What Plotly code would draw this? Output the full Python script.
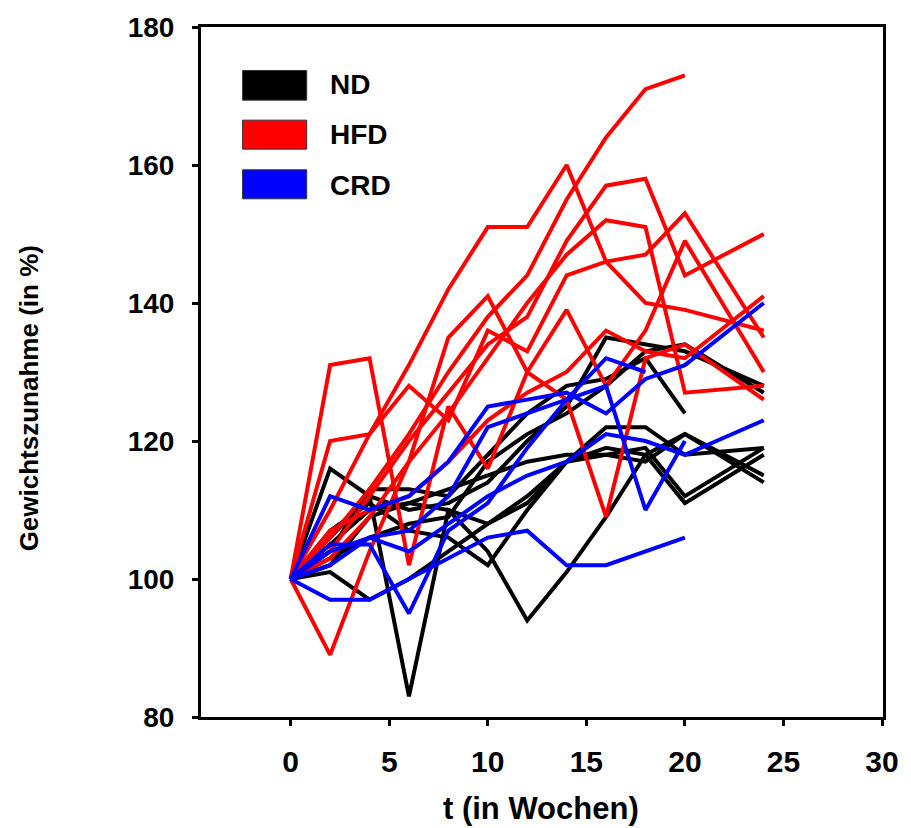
import plotly.graph_objects as go

weeks = [0, 2, 4, 6, 8, 10, 12, 14, 16, 18, 20, 24]

nd_series = [
    [100, 116, 112, 110, 111, 114, 120, 125, 135, 134, 133, 128],
    [100, 104, 113, 113, 112, 118, 124, 128, 129, 132, 124, None],
    [100, 106, 112, 83, 110, 108, 112, 117, 122, 122, 118, 119],
    [100, 101, 97, 100, 104, 108, 111, 117, 118, 117, 121, 114],
    [100, 102, 109, 111, 113, 115, 117, 118, 118, 119, 112, 119],
    [100, 105, 110, 111, 110, 104, 94, 101, 109, 118, 121, 115],
    [100, 103, 106, 108, 109, 117, 121, 124, 128, 133, 134, 127],
    [100, 107, 111, 107, 106, 102, 110, 117, 119, 118, 111, 118],
]

hfd_series = [
    [100, 106, 113, 121, 130, 138, 144, 155, 164, 171, 173, None],
    [100, 110, 121, 131, 142, 151, 151, 160, 146, 140, 139, 136],
    [100, 104, 112, 120, 127, 134, 138, 149, 157, 158, 144, 150],
    [100, 103, 109, 117, 124, 132, 140, 147, 152, 151, 127, 128],
    [100, 131, 132, 102, 125, 116, 130, 126, 109, 132, 134, 126],
    [100, 120, 121, 128, 123, 136, 133, 144, 146, 147, 153, 135],
    [100, 89, 104, 117, 135, 141, 130, 139, 128, 136, 149, 130],
    [100, 107, 110, 112, 117, 123, 127, 130, 136, 133, 132, 141],
]

crd_series = [
    [100, 112, 110, 112, 117, 125, 126, 127, 124, 129, 131, 140],
    [100, 97, 97, 100, 103, 106, 107, 102, 102, 104, 106, None],
    [100, 105, 105, 95, 107, 111, 119, 126, 128, 110, 120, None],
    [100, 104, 106, 104, 108, 112, 115, 117, 121, 120, 118, 123],
    [100, 102, 106, 107, 112, 122, 124, 126, 132, 130, None, None],
]

groups = [("ND", "#000000", nd_series), ("HFD", "#ff0000", hfd_series), ("CRD", "#0000ff", crd_series)]

x_ticks = [0, 5, 10, 15, 20, 25, 30]
y_ticks = [80, 100, 120, 140, 160, 180]

FONT = "Liberation Sans, Arial, sans-serif"

fig = go.Figure()
for name, color, series in groups:
    for s in series:
        fig.add_trace(go.Scatter(
            x=weeks, y=s, mode="lines",
            line=dict(color=color, width=4),
            connectgaps=False, showlegend=False, hoverinfo="skip",
        ))

# legend drawn as boxes + labels
leg_rows = [(0.937, 0.894, 0.916), (0.865, 0.823, 0.8435), (0.793, 0.751, 0.771)]
for (name, color, _), (y1, y0, yc) in zip(groups, leg_rows):
    fig.add_shape(type="rect", xref="paper", yref="paper",
                  x0=0.061, x1=0.155, y0=y0, y1=y1,
                  fillcolor=color, line=dict(color="#333333", width=1))
    fig.add_annotation(xref="paper", yref="paper", x=0.186, y=yc,
                       text="<b>%s</b>" % name, showarrow=False,
                       xanchor="left", yanchor="middle",
                       font=dict(family=FONT, size=28, color="black"))

# axis titles
fig.add_annotation(xref="paper", yref="paper", x=0.498, y=-0.132,
                   text="<b>t (in Wochen)</b>", showarrow=False,
                   xanchor="center", yanchor="middle",
                   font=dict(family=FONT, size=31, color="black"))
fig.add_annotation(xref="paper", yref="paper", x=-0.252, y=0.462,
                   text="<b>Gewichtszunahme (in %)</b>", showarrow=False,
                   textangle=-90, xanchor="center", yanchor="middle",
                   font=dict(family=FONT, size=26, color="black"))

fig.update_layout(
    width=911, height=828,
    margin=dict(l=201, r=18, t=27, b=111),
    paper_bgcolor="white", plot_bgcolor="white",
    font=dict(family=FONT, color="black"),
    showlegend=False,
)
fig.update_xaxes(
    range=[-4.55, 30.05], tickvals=x_ticks,
    ticktext=["<b>%d</b>" % v for v in x_ticks],
    tickfont=dict(family=FONT, size=30),
    ticks="outside", ticklen=6, tickwidth=3, tickcolor="black",
    ticklabelstandoff=10,
    showline=True, linewidth=3, linecolor="black", mirror=True,
    showgrid=False, zeroline=False,
)
fig.update_yaxes(
    range=[80, 180], tickvals=y_ticks,
    ticktext=["<b>%d</b>" % v for v in y_ticks],
    tickfont=dict(family=FONT, size=28),
    ticks="outside", ticklen=6, tickwidth=3, tickcolor="black",
    ticklabelstandoff=12,
    showline=True, linewidth=3, linecolor="black", mirror=True,
    showgrid=False, zeroline=False,
)

fig.write_html("out.html")
